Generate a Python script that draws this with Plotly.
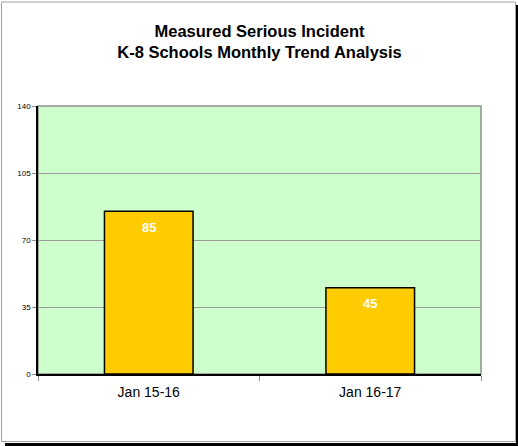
import plotly.graph_objects as go

categories = ["Jan 15-16", "Jan 16-17"]
values = [85, 45]
y_ticks = [0, 35, 70, 105, 140]

W, H = 518, 446
L, R, T, B = 38, 481, 106, 374

def px(x):
    return (x - L) / (R - L)

def py(y):
    return (B - y) / (B - T)

fig = go.Figure()
fig.add_trace(go.Bar(
    x=categories, y=values, width=0.4,
    marker=dict(color="#FFCC00", line=dict(color="#000000", width=1.5)),
    hoverinfo="skip",
))

for c, v in zip(categories, values):
    fig.add_annotation(x=c, y=v, text=f"<b>{v}</b>", showarrow=False, yshift=-16,
                       yanchor="middle",
                       font=dict(family="Arial, Liberation Sans", size=13, color="white"))

shapes = [
    dict(type="rect", xref="paper", yref="paper", x0=px(516), x1=px(518.5), y0=py(446.5), y1=py(5),
         fillcolor="black", line=dict(width=0), layer="below"),
    dict(type="rect", xref="paper", yref="paper", x0=px(5), x1=px(518.5), y0=py(446.5), y1=py(443),
         fillcolor="black", line=dict(width=0), layer="below"),
    dict(type="rect", xref="paper", yref="paper", x0=px(1.5), x1=px(515.5), y0=py(441.5), y1=py(2),
         fillcolor="rgba(0,0,0,0)", line=dict(color="#A0A0A0", width=1), layer="below"),
    dict(type="rect", xref="paper", yref="paper", x0=0, x1=1, y0=0, y1=1,
         fillcolor="rgba(0,0,0,0)", line=dict(color="#909090", width=1.5), layer="below"),
]

fig.update_layout(
    width=W, height=H,
    margin=dict(l=L, r=W - R, t=T, b=H - B, pad=0),
    paper_bgcolor="white", plot_bgcolor="#CCFFCC",
    showlegend=False, bargap=0.6,
    title=dict(text="<b>Measured Serious Incident<br>K-8 Schools Monthly Trend Analysis</b>",
               x=0.5, xref="paper", xanchor="center", y=1 - 37 / H, yanchor="middle",
               font=dict(family="Arial, Liberation Sans", size=16.5, color="black")),
    shapes=shapes,
    font=dict(family="Arial, Liberation Sans", color="black"),
)
fig.update_xaxes(
    showline=True, linecolor="black", linewidth=1.5, mirror=False,
    ticks="outside", tickson="boundaries", ticklen=5, tickcolor="#909090", tickwidth=1,
    tickfont=dict(size=14, family="Arial, Liberation Sans"), showgrid=False,
    ticklabelstandoff=4,
)
fig.update_yaxes(
    range=[0, 140], tickvals=y_ticks, showline=True, linecolor="black", linewidth=1.5,
    ticks="outside", ticklen=4, tickcolor="#909090",
    tickfont=dict(size=8, family="Arial, Liberation Sans"),
    showgrid=True, gridcolor="#999999", gridwidth=1, zeroline=False,
)

fig.write_html("out.html")
